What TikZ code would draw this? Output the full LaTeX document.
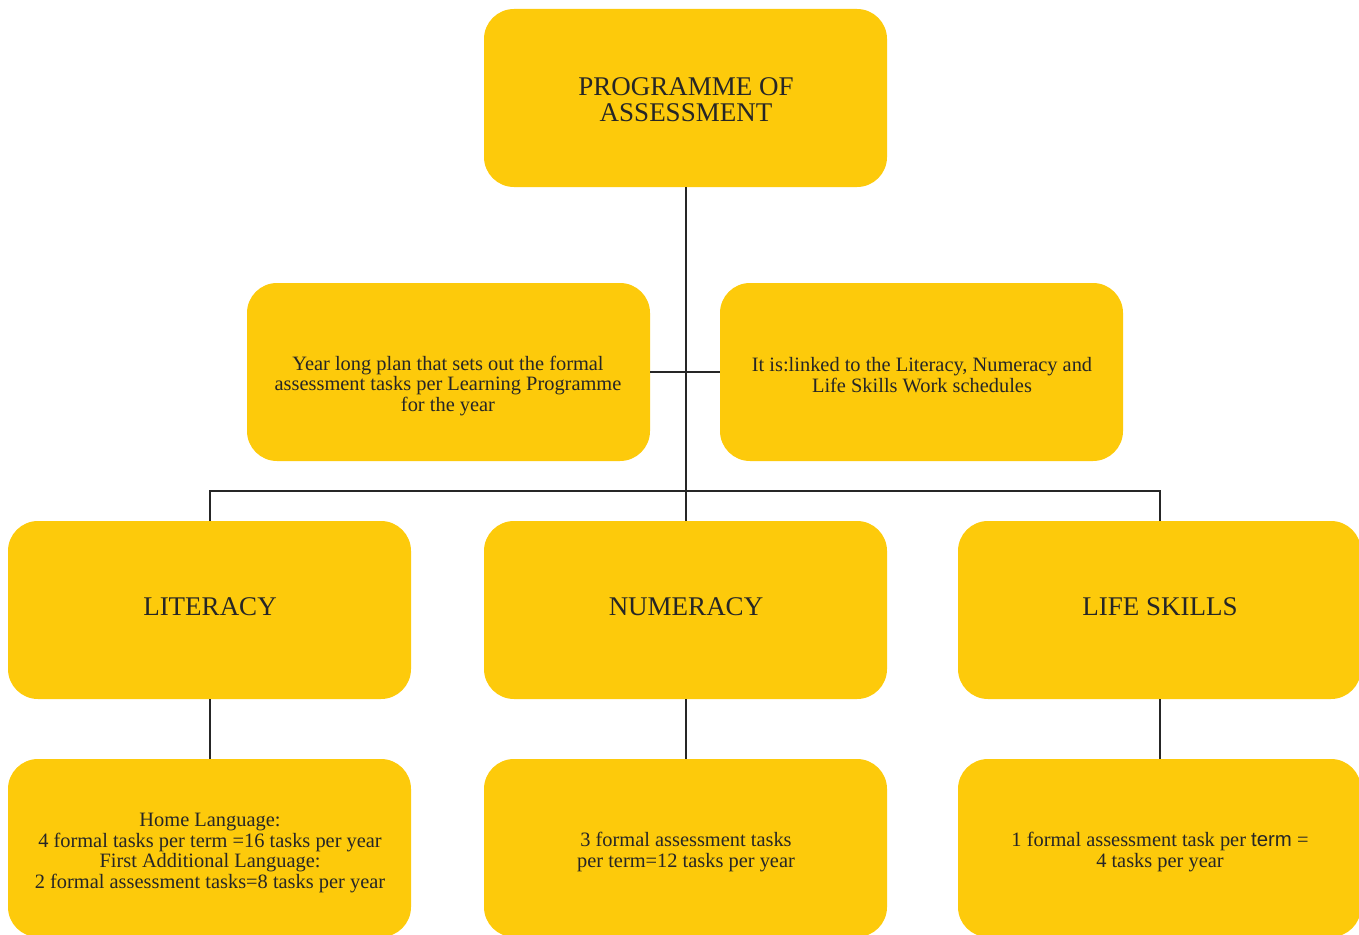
\documentclass[tikz,border=0pt]{standalone}
\usepackage{fontspec}
\setmainfont{Liberation Serif}
\newfontfamily\sansf{Liberation Sans}
\definecolor{boxy}{HTML}{FDCA0B}
\definecolor{inky}{HTML}{262626}
\begin{document}
\begin{tikzpicture}[x=1pt,y=-1pt,
  box/.style={fill=boxy,draw=none,rounded corners=30pt,minimum width=403pt,minimum height=178pt,inner sep=0pt},
  big/.style={text=inky,align=center,font=\fontsize{27}{26}\selectfont},
  small/.style={text=inky,align=center,font=\fontsize{20.4}{20.5}\selectfont},
  link/.style={draw=inky,line width=2pt}]
\useasboundingbox (0,0) rectangle (1359,934);
\clip (0,0) rectangle (1359,934);
% boxes
\node[box] (top) at (685.5,98) {};
\node[box] (ml) at (448.5,372) {};
\node[box] (mr) at (921.5,372) {};
\node[box] (lit) at (209.5,610) {};
\node[box] (num) at (685.5,610) {};
\node[box] (life) at (1159.5,610) {};
\node[box] (blit) at (209.5,848) {};
\node[box] (bnum) at (685.5,848) {};
\node[box] (blife) at (1159.5,848) {};
% connectors
\coordinate (j1) at (686,372);
\coordinate (j2) at (686,491);
\draw[link] (top.south -| j1) -- (j2);
\draw[link] (ml.east) -- (mr.west);
\draw[link] (j2) -| (lit.north);
\draw[link] (j2) -| (life.north);
\draw[link] (j2) -- (j2 |- num.north);
\draw[link] (lit.south) -- (blit.north);
\draw[link] (num.south -| j2) -- (bnum.north -| j2);
\draw[link] (life.south) -- (blife.north);
% texts
\node[big] (ttop) at (686,100) {PROGRAMME OF\\ASSESSMENT};
\node[small] (tml) at (448,386) {Year long plan that sets out the formal\\assessment tasks per Learning Programme\\for the year};
\node[small] (tmr) at (922,375) {It is:linked to the Literacy, Numeracy and\\Life Skills Work schedules};
\node[big] (tlit) at (210,607) {LITERACY};
\node[big] (tnum) at (686,607) {NUMERACY};
\node[big] (tlife) at (1160,607) {LIFE SKILLS};
\node[small] (tblit) at (210,853) {Home Language:\\4 formal tasks per term =16 tasks per year\\First Additional Language:\\2 formal assessment tasks=8 tasks per year};
\node[small] (tbnum) at (686,852) {3 formal assessment tasks\\per term=12 tasks per year};
\node[small] (tblife) at (1160,852) {1 formal assessment task per {\sansf term} =\\4 tasks per year};
\end{tikzpicture}
\end{document}
